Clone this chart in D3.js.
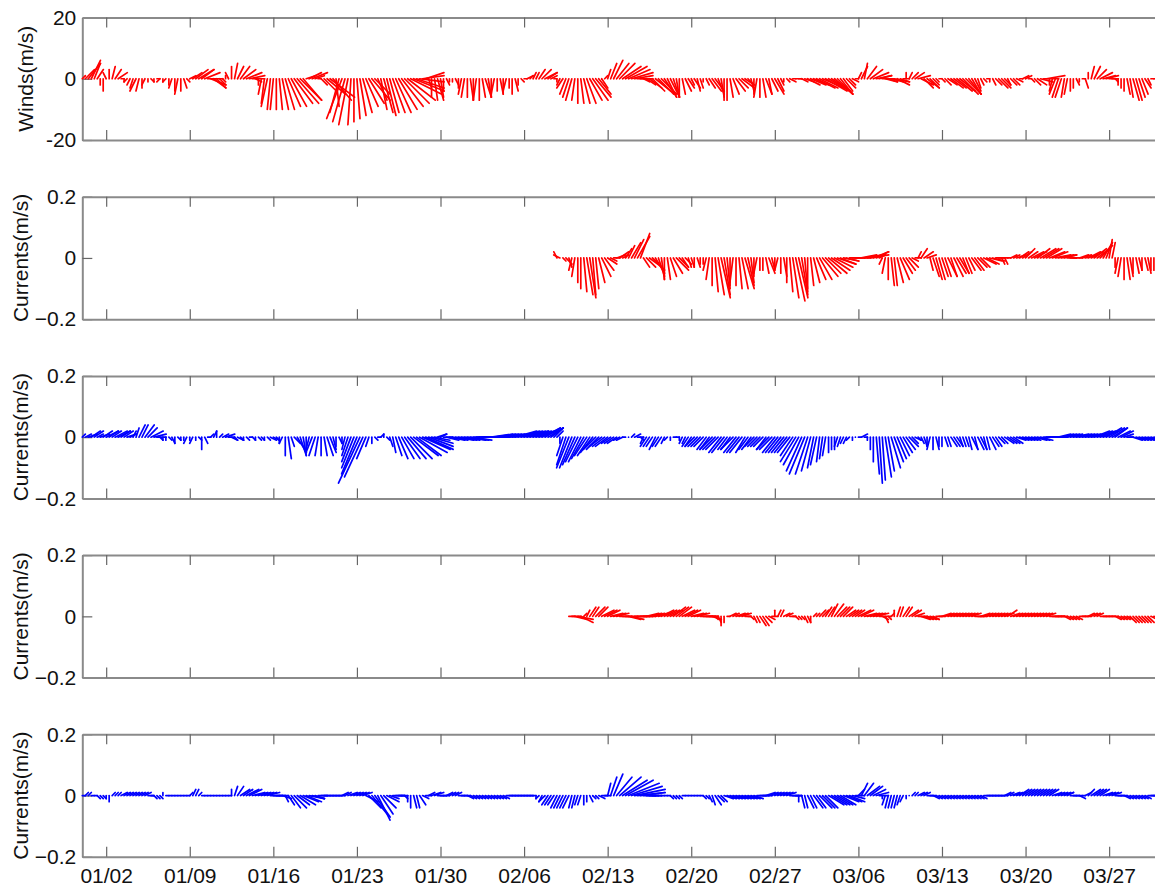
<!DOCTYPE html>
<html>
<head>
<meta charset="utf-8">
<script src="https://cdn.jsdelivr.net/npm/d3@7"></script>
<style>
  body { margin: 0; background: #fff; }
  text { font-family: "Liberation Sans", Arial, Helvetica, sans-serif; fill: #111; }
</style>
</head>
<body>
<svg id="chart" width="1155" height="889"></svg>
<script>
// Stick-plot records, 6-hourly. Each entry is [east, north].
// Wind in m/s, currents in cm/s.
const stepHours = 6;

const windStart = "2012-12-31T00:00Z";
const windUV = [
  [1,1],[3,3],[4,5],[3,6],   [2,5],[2,3],[0,-2],[0,-4],   [-1,2],[0,3],[1,4],[2,3],
  [3,2],[1,0],[0,-1],[-1,-1],   [-1,-2],[-1,-3],[-2,-4],[-1,-4],   [0,-3],[-1,-2],[0,-1],[1,-1],
  [0,-1],[1,0],[-1,-1],[0,-1],   [-1,-1],[0,-2],[-1,-3],[0,-4],   [-1,-5],[0,-4],[1,-3],[1,-1],
  [2,1],[3,2],[4,3],[5,3],   [4,3],[5,2],[5,0],[5,-2],   [4,-3],[3,-3],[2,-2],[1,-1],
  [0,1],[-1,2],[0,4],[1,5],   [2,4],[3,4],[4,3],[5,2],   [5,1],[4,0],[2,-1],[0,-2],
  [-1,-5],[-1,-8],[-2,-9],[-1,-10],   [-1,-10],[0,-10],[1,-10],[2,-10],   [3,-10],[4,-9],[5,-9],[6,-8],
  [7,-8],[7,-7],[6,-7],[3,1],   [4,2],[5,2],[3,1],[1,0],   [2,-2],[4,-4],[6,-5],[8,-6],
  [6,-7],[1,-9],[-3,-11],[-5,-13],   [-4,-14],[-3,-15],[-1,-15],[0,-14],   [1,-13],[2,-12],[3,-11],[4,-9],
  [5,-8],[6,-7],[5,-5],[3,-7],   [2,-10],[3,-11],[3,-12],[3,-11],   [4,-11],[5,-11],[6,-10],[7,-9],
  [8,-8],[9,-7],[10,-5],[10,-4],   [9,-3],[8,-1],[7,1],[6,2],   [1,-3],[0,-6],[1,-7],[2,-7],
  [1,-6],[0,-4],[1,-2],[0,-1],   [0,-1],[1,-2],[0,-3],[-1,-5],   [-1,-6],[0,-6],[1,-7],[0,-7],
  [-1,-7],[0,-7],[1,-6],[2,-6],   [1,-6],[0,-6],[-1,-5],[0,-4],   [1,-5],[0,-5],[-1,-4],[0,-3],
  [0,-5],[1,-4],[0,-2],[1,-1],   [1,0],[2,1],[1,1],[1,2],   [1,2],[2,3],[3,3],[4,2],
  [3,2],[2,1],[1,0],[0,-1],   [-1,-2],[-2,-3],[-2,-5],[-2,-6],   [-2,-7],[-1,-7],[0,-8],[1,-8],
  [2,-8],[3,-8],[4,-7],[5,-7],   [5,-6],[4,-5],[2,-3],[1,1],   [1,3],[2,5],[3,6],[4,5],
  [5,5],[6,4],[7,4],[7,3],   [7,2],[6,1],[5,0],[4,0],   [2,-1],[3,-2],[4,-3],[4,-4],
  [5,-4],[5,-5],[5,-5],[4,-6],   [3,-6],[3,-6],[2,-6],[1,-6],   [0,-6],[1,-5],[2,-4],[2,-3],
  [1,-2],[2,-3],[1,-4],[1,-3],   [0,-1],[1,-2],[2,-3],[3,-4],   [3,-4],[2,-5],[1,-6],[0,-7],
  [0,-7],[1,-6],[2,-5],[3,-4],   [3,-3],[4,-3],[3,-2],[2,-2],   [1,-4],[0,-5],[-1,-6],[0,-6],
  [1,-6],[2,-5],[1,-5],[2,-4],   [3,-5],[2,-4],[1,-2],[0,-1],   [1,-1],[2,-1],[1,0],[2,0],
  [1,0],[2,-1],[3,-1],[4,-2],   [5,-2],[5,-2],[6,-3],[6,-3],   [7,-3],[7,-4],[7,-4],[6,-4],
  [6,-5],[5,-5],[4,-5],[3,-4],   [3,-3],[2,-2],[2,-1],[1,0],   [1,2],[2,4],[1,5],[3,4],
  [4,3],[5,2],[5,1],[4,1],   [4,0],[4,-1],[3,-1],[4,-1],   [5,-1],[4,-2],[3,-1],[2,0],
  [0,2],[1,2],[2,2],[3,2],   [4,1],[4,-2],[3,-3],[4,-3],   [3,-3],[2,-2],[1,-1],[1,0],
  [1,-1],[2,-2],[3,-2],[4,-3],   [4,-3],[5,-4],[5,-4],[5,-5],   [5,-5],[4,-5],[3,-5],[2,-4],
  [1,-3],[1,-2],[1,-1],[1,0],   [0,-1],[1,-2],[2,-2],[3,-3],   [3,-3],[2,-2],[1,-2],[2,-2],
  [2,-2],[2,-1],[1,0],[2,1],   [2,1],[1,0],[1,-1],[2,-2],   [3,-2],[4,-1],[5,0],[6,1],
  [0,-2],[-1,-4],[-2,-5],[-2,-6],   [-2,-6],[-1,-6],[-1,-5],[0,-4],   [0,-3],[1,-2],[0,-1],[1,0],
  [1,-3],[0,2],[1,4],[2,4],   [3,3],[4,2],[4,1],[4,1],   [3,0],[2,0],[1,-1],[0,-2],
  [0,-3],[0,-4],[1,-5],[1,-6],   [2,-7],[2,-7],[2,-6],[2,-5],   [2,-3],[1,-2],[1,0],[1,0]
];

const upperRedStart = "2013-02-08T18:00Z";
const upperRedUV = [
  [-1,2],
  [-2,1],[1,-1],[2,-2],[1,-3],   [-1,-4],[-1,-6],[0,-8],[0,-10],   [1,-11],[2,-12],[2,-13],[1,-12],
  [1,-10],[2,-8],[3,-6],[3,-4],   [3,-2],[2,-1],[2,0],[3,1],   [3,2],[2,1],[2,3],[2,4],
  [3,5],[3,6],[4,7],[3,8],   [2,-3],[3,-3],[4,-3],[4,-4],   [3,-5],[2,-6],[1,-7],[0,-7],
  [1,-7],[2,-6],[3,-5],[4,-4],   [3,-3],[2,-3],[2,-2],[1,-3],   [1,-3],[0,-3],[1,-3],[0,-2],
  [0,-2],[-1,-4],[-1,-7],[0,-9],   [1,-11],[2,-12],[3,-13],[2,-12],   [1,-10],[0,-9],[-1,-8],[0,-9],
  [1,-10],[2,-10],[3,-10],[2,-9],   [1,-8],[0,-6],[-1,-5],[0,-4],   [0,-4],[1,-5],[2,-5],[1,-4],
  [0,-3],[-1,-4],[0,-5],[1,-6],   [0,-8],[1,-11],[2,-13],[3,-14],   [3,-13],[2,-12],[1,-11],[0,-10],
  [1,-9],[2,-8],[3,-7],[4,-7],   [5,-6],[5,-5],[6,-5],[6,-4],   [6,-3],[6,-2],[5,-2],[5,-1],
  [4,-1],[4,0],[3,0],[3,0],   [4,0],[5,1],[6,1],[6,1],   [6,1],[5,2],[4,2],[2,1],
  [-1,-2],[-1,-5],[0,-7],[1,-9],   [1,-9],[2,-8],[3,-7],[3,-5],   [3,-4],[3,-3],[2,-1],[2,0],
  [1,2],[2,3],[3,2],[3,1],   [1,-4],[2,-6],[2,-7],[2,-7],   [2,-6],[2,-6],[3,-6],[2,-6],
  [3,-6],[3,-5],[3,-5],[2,-5],   [2,-5],[2,-4],[3,-4],[3,-4],   [3,-3],[3,-3],[4,-2],[4,-2],
  [4,-1],[4,-1],[3,0],[3,0],   [1,-2],[1,-2],[1,0],[2,1],   [2,1],[3,1],[3,2],[3,2],
  [3,3],[3,2],[4,2],[4,2],   [4,3],[5,3],[5,3],[5,3],   [5,2],[5,2],[5,1],[5,1],
  [5,1],[4,1],[3,0],[2,0],   [1,0],[2,0],[3,1],[3,1],   [4,1],[4,2],[4,2],[4,3],
  [4,3],[4,4],[3,5],[2,5],   [1,6],[1,5],[0,-3],[-1,-5],   [-1,-6],[0,-7],[1,-7],[1,-6],
  [0,-5],[1,-5],[1,-4],[0,-4],   [1,-4],[1,-5],[0,-4],[0,-4]
];

const upperBlueStart = "2012-12-31T00:00Z";
const upperBlueUV = [
  [1,1],[2,1],[3,1],[3,2],   [3,2],[2,1],[3,1],[3,2],   [4,2],[3,2],[3,2],[4,2],
  [4,2],[3,2],[3,2],[3,1],   [2,1],[1,2],[1,3],[2,4],   [2,4],[3,4],[3,3],[4,2],
  [4,1],[3,0],[1,-1],[0,-1],   [0,-1],[1,-1],[1,-2],[0,-2],   [1,-1],[0,-1],[0,-1],[-1,-2],
  [0,-1],[-1,-2],[0,-1],[1,-1],   [0,-4],[1,-2],[1,0],[1,1],   [1,2],[0,2],[1,1],[2,1],
  [3,1],[2,0],[2,-1],[1,-1],   [2,-1],[1,-1],[0,-1],[1,-1],   [1,0],[1,-1],[0,-1],[1,-1],
  [1,-1],[0,-1],[1,-1],[2,-1],   [2,-1],[1,-1],[0,-2],[-1,-2],   [0,-6],[1,-7],[1,-3],[2,-2],
  [3,-5],[2,-6],[1,-6],[0,-5],   [-1,-4],[-2,-5],[-2,-6],[-1,-6],   [0,-6],[1,-6],[2,-6],[2,-5],
  [1,-4],[0,-3],[1,-2],[0,-2],   [-1,-4],[-2,-6],[-3,-8],[-4,-10],   [-5,-12],[-7,-15],[-6,-13],[-3,-7],
  [-1,-3],[0,-2],[1,-1],[1,0],   [1,1],[0,1],[1,-1],[1,-3],   [1,-5],[2,-6],[3,-7],[4,-7],
  [5,-7],[6,-7],[7,-7],[8,-6],   [8,-6],[9,-5],[9,-4],[9,-4],   [8,-3],[7,-2],[5,-1],[3,1],
  [2,1],[3,0],[4,-1],[5,-1],   [5,-1],[6,-1],[6,-1],[6,-1],   [7,-1],[7,-1],[7,-1],[7,0],
  [7,0],[7,0],[7,0],[7,0],   [7,0],[7,1],[7,1],[7,1],   [7,1],[7,1],[7,1],[7,1],
  [7,1],[7,2],[7,2],[7,2],   [7,2],[7,2],[6,2],[6,2],   [6,2],[6,2],[6,3],[5,3],
  [5,3],[4,3],[3,3],[2,2],   [0,-2],[-2,-6],[-3,-9],[-4,-10],   [-4,-10],[-4,-9],[-4,-8],[-4,-8],
  [-4,-7],[-4,-6],[-4,-6],[-4,-5],   [-4,-4],[-4,-4],[-4,-3],[-4,-3],   [-4,-3],[-3,-2],[-3,-2],[-3,-2],
  [-2,-1],[-2,-1],[-1,0],[0,0],   [1,1],[2,1],[2,0],[1,-1],   [-1,-2],[-2,-3],[-2,-3],[-2,-3],
  [-2,-4],[-2,-3],[-2,-3],[-1,-2],   [-1,-1],[0,-1],[1,0],[1,0],   [0,-1],[-1,-2],[-1,-2],[-2,-3],
  [-2,-3],[-3,-3],[-3,-3],[-3,-3],   [-3,-3],[-3,-4],[-3,-4],[-4,-4],   [-4,-4],[-4,-4],[-4,-5],[-4,-5],
  [-3,-4],[-3,-4],[-4,-4],[-4,-5],   [-4,-5],[-4,-5],[-3,-5],[-3,-4],   [-3,-4],[-3,-3],[-3,-3],[-3,-3],
  [-3,-3],[-3,-4],[-4,-4],[-4,-4],   [-4,-5],[-4,-5],[-4,-5],[-4,-5],   [-4,-5],[-4,-5],[-4,-6],[-5,-8],
  [-5,-9],[-5,-11],[-5,-12],[-4,-12],   [-3,-11],[-2,-10],[-2,-9],[-1,-8],   [-1,-7],[-1,-6],[0,-5],[0,-4],
  [0,-4],[-1,-3],[-1,-3],[-1,-2],   [-1,-2],[-1,-1],[0,-1],[0,0],   [1,0],[2,1],[1,0],[0,-1],
  [0,-4],[0,-8],[1,-12],[1,-15],   [1,-14],[2,-13],[2,-11],[3,-10],   [3,-8],[3,-7],[3,-6],[3,-5],
  [3,-4],[3,-3],[2,-2],[2,-1],   [1,-1],[1,-2],[1,-3],[0,-3],   [-1,-4],[0,-4],[1,-4],[0,-3],
  [0,-3],[1,-3],[1,-3],[2,-3],   [2,-3],[2,-3],[1,-3],[1,-3],   [1,-3],[1,-4],[2,-4],[1,-4],
  [2,-4],[2,-4],[1,-4],[1,-4],   [2,-4],[2,-3],[2,-3],[2,-2],   [2,-2],[3,-2],[3,-2],[3,-2],
  [3,-2],[3,-1],[3,-1],[3,-1],   [3,-1],[3,-1],[3,-1],[4,-1],   [4,-1],[4,-1],[4,0],[4,0],
  [4,0],[4,0],[4,0],[4,1],   [4,1],[4,1],[4,1],[4,1],   [5,1],[5,1],[5,1],[5,1],
  [5,1],[5,1],[5,1],[5,2],   [5,2],[5,2],[5,2],[5,3],   [5,3],[5,3],[4,3],[4,2],
  [4,2],[3,1],[2,0],[1,0],   [3,-1],[3,-1],[3,-1],[3,-1],   [3,-1],[3,-1],[3,-1],[3,-1]
];

const lowerRedStart = "2013-02-09T18:00Z";
const lowerRedUV = [
  [2,0],
  [3,0],[4,-1],[5,-1],[4,-2],   [1,1],[1,2],[2,3],[2,3],   [3,3],[3,3],[4,2],[4,2],
  [4,2],[4,1],[4,1],[4,1],   [3,0],[3,0],[4,0],[4,-1],   [4,-1],[4,0],[4,0],[4,0],
  [4,0],[4,1],[4,1],[4,1],   [4,1],[4,1],[4,2],[4,2],   [4,2],[4,2],[4,3],[4,3],
  [4,3],[4,2],[4,2],[4,2],   [4,1],[4,1],[4,1],[4,0],   [4,0],[4,0],[3,0],[3,-1],
  [1,-1],[1,-2],[0,-3],[0,-2],   [1,0],[2,1],[2,1],[3,1],   [3,1],[3,1],[2,0],[1,0],
  [1,-1],[1,-2],[1,-2],[2,-3],   [2,-3],[2,-2],[2,-1],[2,0],   [0,2],[1,2],[1,2],[2,1],
  [2,1],[2,0],[1,0],[1,-1],   [1,-1],[1,-1],[1,-2],[1,-2],   [0,-2],[1,1],[1,1],[2,2],
  [2,2],[2,3],[2,3],[2,4],   [3,4],[3,3],[3,3],[3,3],   [3,2],[3,2],[3,2],[3,2],
  [4,2],[4,2],[4,1],[4,1],   [4,1],[4,1],[4,1],[4,0],   [2,-1],[1,-2],[1,-1],[1,1],
  [0,2],[1,3],[1,3],[2,3],   [2,3],[3,2],[3,2],[3,1],   [3,0],[3,-1],[3,-1],[3,-1],
  [3,-1],[2,-1],[2,0],[2,0],   [3,1],[3,1],[3,1],[3,1],   [3,1],[3,1],[3,1],[3,1],
  [3,1],[3,1],[3,1],[3,0],   [3,0],[3,1],[3,1],[3,1],   [3,1],[3,1],[3,1],[3,1],
  [3,1],[3,1],[3,2],[3,1],   [3,1],[3,1],[3,1],[3,1],   [3,1],[3,1],[3,1],[3,1],
  [3,1],[3,1],[3,1],[3,1],   [3,0],[3,0],[3,0],[2,0],   [2,0],[2,-1],[2,-1],[2,-1],
  [2,-1],[2,-1],[2,0],[2,0],   [2,0],[2,1],[2,1],[2,1],   [2,1],[2,0],[2,0],[2,0],
  [2,0],[2,0],[2,-1],[2,-1],   [2,-1],[2,-1],[2,-1],[2,-2],   [2,-2],[2,-2],[2,-2],[2,-2],
  [2,-2],[2,-2],[2,-1],[2,-1]
];

const lowerBlueStart = "2012-12-31T00:00Z";
const lowerBlueUV = [
  [1,0],[1,1],[1,1],[1,0],   [1,0],[1,-1],[1,-1],[1,-1],   [0,-1],[0,-2],[1,1],[1,1],
  [1,1],[2,1],[2,1],[2,1],   [2,1],[2,1],[2,1],[2,1],   [2,1],[2,1],[2,0],[1,0],
  [1,-1],[1,-1],[1,-1],[0,1],   [1,0],[1,0],[1,0],[1,0],   [1,0],[1,0],[1,0],[1,0],
  [1,1],[1,2],[1,2],[1,1],   [1,0],[1,0],[1,0],[1,0],   [1,0],[1,0],[1,0],[1,0],
  [1,0],[1,0],[0,2],[1,3],   [2,3],[3,2],[3,2],[4,2],   [4,2],[4,1],[4,1],[4,1],
  [4,1],[4,1],[4,1],[3,0],   [3,0],[3,0],[3,0],[3,-1],   [1,-2],[2,-3],[3,-4],[4,-4],
  [4,-3],[5,-3],[5,-2],[5,-2],   [5,-1],[4,-1],[3,-1],[3,0],   [2,0],[2,0],[2,0],[2,0],
  [2,0],[2,0],[2,0],[2,1],   [2,1],[3,1],[3,1],[3,1],   [3,1],[3,1],[3,1],[4,-2],
  [4,-4],[5,-6],[5,-7],[4,-8],   [4,-6],[4,-4],[4,-2],[3,-1],   [3,0],[3,0],[2,0],[2,0],
  [1,-1],[0,-2],[0,-4],[1,-4],   [1,-4],[2,-3],[2,-1],[2,0],   [2,1],[3,1],[3,1],[2,0],
  [2,0],[2,0],[2,1],[2,1],   [2,1],[2,1],[2,0],[2,0],   [2,0],[2,-1],[2,-1],[2,-1],
  [2,-1],[2,-1],[2,-1],[2,-1],   [2,-1],[2,-1],[2,-1],[2,-1],   [2,-1],[2,-1],[2,0],[2,0],
  [2,0],[2,0],[2,0],[2,0],   [2,0],[2,0],[1,0],[1,0],   [0,-1],[-1,-1],[-1,-2],[-2,-2],
  [-2,-3],[-2,-3],[-2,-3],[-2,-4],   [-2,-4],[-2,-4],[-2,-4],[-2,-4],   [-1,-4],[-1,-4],[-1,-3],[-1,-3],
  [0,-3],[0,-2],[1,-2],[1,-1],   [1,-1],[2,-1],[2,0],[2,0],   [1,4],[2,6],[3,7],[5,6],
  [7,6],[8,5],[9,5],[10,4],   [10,3],[10,2],[9,1],[8,1],   [6,0],[4,0],[2,0],[1,0],
  [1,0],[1,0],[1,0],[1,0],   [1,0],[1,-1],[1,-1],[1,-1],   [1,-1],[1,0],[1,0],[1,0],
  [1,0],[1,0],[1,0],[1,0],   [1,-1],[1,-1],[1,-2],[1,-3],   [2,-3],[2,-2],[2,-2],[3,-1],
  [3,-1],[3,-1],[3,-1],[3,-1],   [3,-1],[3,-1],[3,-1],[3,-1],   [3,-1],[3,-1],[3,0],[3,0],
  [3,0],[3,1],[3,1],[3,1],   [3,1],[3,1],[3,1],[3,1],   [3,1],[3,0],[3,0],[2,0],
  [0,-2],[1,-4],[1,-4],[2,-4],   [2,-4],[3,-4],[3,-4],[4,-4],   [4,-4],[4,-4],[5,-3],[5,-3],
  [5,-3],[5,-3],[5,-3],[5,-2],   [5,-2],[5,-2],[4,-1],[3,0],   [2,2],[2,4],[3,4],[4,3],
  [4,3],[4,2],[4,1],[3,0],   [0,-1],[-1,-3],[-1,-4],[-1,-4],   [-1,-4],[-1,-4],[-1,-3],[-1,-2],
  [0,-1],[0,0],[1,1],[1,1],   [2,1],[2,1],[2,1],[2,0],   [2,0],[2,-1],[2,-1],[2,-1],
  [2,-1],[2,-1],[2,-1],[2,-1],   [2,-1],[2,-1],[2,-1],[2,-1],   [2,-1],[2,-1],[2,-1],[2,-1],
  [2,-1],[2,-1],[2,0],[2,0],   [2,0],[2,0],[2,0],[2,0],   [2,0],[2,1],[2,1],[3,1],
  [3,1],[3,1],[3,2],[3,2],   [3,2],[3,2],[3,2],[3,2],   [3,2],[3,2],[3,2],[3,2],
  [3,2],[3,1],[3,1],[3,1],   [3,1],[3,1],[2,1],[2,0],   [2,0],[2,0],[2,-1],[1,0],
  [2,1],[2,2],[3,2],[3,2],   [3,2],[3,2],[3,1],[3,1],   [3,1],[3,1],[2,0],[2,0],
  [2,0],[2,-1],[2,-1],[2,-1],   [2,-1],[2,-1],[2,-1],[2,-1],   [2,-1],[2,0],[2,0],[2,0]
];

// Axis labels and ticks
const dateLabels = ["01/02","01/09","01/16","01/23","01/30","02/06","02/13",
                    "02/20","02/27","03/06","03/13","03/20","03/27"];
const windTicks = [-20, 0, 20];
const currentTicks = [-0.2, 0, 0.2];

// ---------------------------------------------------------------------
const svg = d3.select("#chart");
const hourMs = 3600 * 1000;

const x = d3.scaleUtc()
  .domain([Date.UTC(2012, 11, 31), Date.UTC(2013, 3, 1)])
  .range([82.3, 82.3 + 91 * 11.94]);

const tickDates = dateLabels.map(s => {
  const [m, d] = s.split("/").map(Number);
  return new Date(Date.UTC(2013, m - 1, d));
});

const currentFmt = d => d === 0 ? "0" : d3.format(".1f")(d);
const panels = [
  { title: "Winds(m/s)",    start: windStart,      uv: windUV,      color: "#ff0000", domain: [-20, 20],   ticks: windTicks,    scale: 1,    fmt: d => String(d), labelX: 33 },
  { title: "Currents(m/s)", start: upperRedStart,  uv: upperRedUV,  color: "#ff0000", domain: [-0.2, 0.2], ticks: currentTicks, scale: 0.01, fmt: currentFmt,   labelX: 28 },
  { title: "Currents(m/s)", start: upperBlueStart, uv: upperBlueUV, color: "#0000ff", domain: [-0.2, 0.2], ticks: currentTicks, scale: 0.01, fmt: currentFmt,   labelX: 28 },
  { title: "Currents(m/s)", start: lowerRedStart,  uv: lowerRedUV,  color: "#ff0000", domain: [-0.2, 0.2], ticks: currentTicks, scale: 0.01, fmt: currentFmt,   labelX: 28 },
  { title: "Currents(m/s)", start: lowerBlueStart, uv: lowerBlueUV, color: "#0000ff", domain: [-0.2, 0.2], ticks: currentTicks, scale: 0.01, fmt: currentFmt,   labelX: 28 }
];

const panelTop0 = 17.5, panelGap = 179.2, panelH = 122.5;

function styleAxis(g) {
  g.select(".domain").attr("stroke", "#8a8a8a").attr("stroke-width", 2);
  g.selectAll(".tick line").attr("stroke", "#666").attr("stroke-width", 1.2);
  g.selectAll(".tick text").attr("font-size", 21).attr("fill", "#111")
    .attr("font-family", '"Liberation Sans", Arial, sans-serif');
}

panels.forEach((p, i) => {
  const top = panelTop0 + i * panelGap;
  const bottom = top + panelH;
  const y = d3.scaleLinear().domain(p.domain).range([bottom, top]);
  const y0 = y(0);
  const t0 = Date.parse(p.start);
  const g = svg.append("g");

  // frame axes
  const gl = g.append("g").attr("transform", `translate(${x.range()[0]},0)`)
    .call(d3.axisLeft(y).tickValues(p.ticks).tickSizeInner(-10).tickSizeOuter(0)
      .tickPadding(6).tickFormat(p.fmt));
  styleAxis(gl);

  const gt = g.append("g").attr("transform", `translate(0,${top})`)
    .call(d3.axisTop(x).tickValues(tickDates).tickSizeInner(-10).tickSizeOuter(0).tickFormat(""));
  styleAxis(gt);

  const isLast = i === panels.length - 1;
  const gb = g.append("g").attr("transform", `translate(0,${bottom})`)
    .call(d3.axisBottom(x).tickValues(tickDates).tickSizeInner(-10).tickSizeOuter(0)
      .tickPadding(11).tickFormat(isLast ? ((d, k) => dateLabels[k]) : ""));
  styleAxis(gb);

  // sticks: base on the zero line, tip displaced by (east, north) with equal screen scaling
  g.append("g").selectAll("line").data(p.uv).join("line")
    .attr("x1", (d, k) => x(t0 + k * stepHours * hourMs))
    .attr("y1", y0)
    .attr("x2", (d, k) => x(t0 + k * stepHours * hourMs) + (y0 - y(d[0] * p.scale)))
    .attr("y2", d => y(d[1] * p.scale))
    .attr("stroke", p.color)
    .attr("stroke-width", 1.7)
    .attr("stroke-linecap", "round");

  // y title
  g.append("text")
    .attr("transform", `translate(${p.labelX},${(top + bottom) / 2}) rotate(-90)`)
    .attr("text-anchor", "middle")
    .attr("font-size", 21)
    .text(p.title);
});
</script>
</body>
</html>
